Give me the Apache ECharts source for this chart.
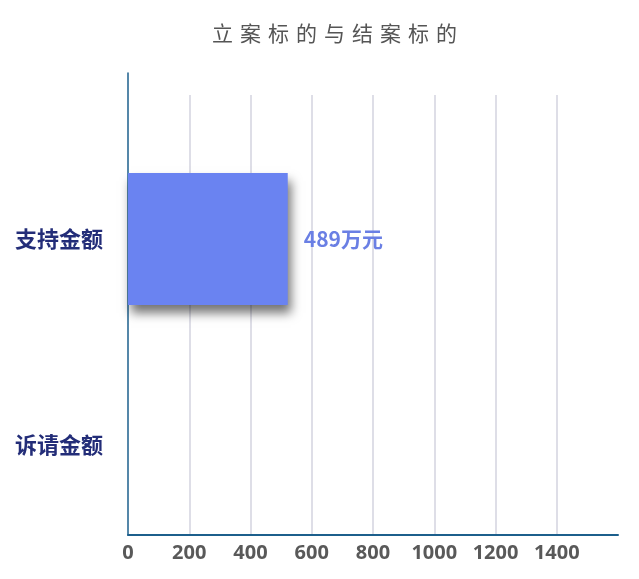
<!DOCTYPE html>
<html>
<head>
<meta charset="utf-8">
<script src="https://cdn.jsdelivr.net/npm/echarts@6/dist/echarts.min.js"></script>
<style>
html,body{margin:0;padding:0;background:#fff;}
#c{width:639px;height:579px;}
</style>
</head>
<body>
<div id="c"></div>
<script>
// ---- data ----
const titleText = '立案标的与结案标的';
const categories = ['支持金额', '诉请金额'];
const amounts = [489, null];          // 万元; 诉请金额 has no bar
const unit = '万元';
const tickMin = 0;
const tickMax = 1600;
const tickStep = 200;
const barScaleMax = 1500;             // scale used by the bar layer

const chart = echarts.init(document.getElementById('c'));
const sp = '\u2004';
const font = '"Noto Sans CJK SC", "Open Sans", sans-serif';

chart.setOption({
  animation: false,
  title: {
    text: titleText.split('').join(sp),
    left: 207,
    top: 18,
    textStyle: { fontSize: 21, fontWeight: 'normal', color: '#555', fontFamily: font }
  },
  grid: [
    { left: 128, right: 21, top: 95, bottom: 44 },   // tick / split-line grid
    { left: 128, right: 21, top: 73, bottom: 44 },   // y axis line
    { left: 128, right: 21, top: 136, bottom: 31 }   // bars
  ],
  xAxis: [
    {
      gridIndex: 0, type: 'value', min: tickMin, max: tickMax, interval: tickStep,
      axisLine: { show: true, lineStyle: { color: '#1c5f8c', width: 2 } },
      axisTick: { show: false },
      axisLabel: { showMaxLabel: false, margin: 8, formatter: v => String(v), color: '#595959', fontSize: 20, fontWeight: 'bold', fontFamily: '"Open Sans", sans-serif' },
      splitLine: { show: true, showMinLine: false, showMaxLine: false, lineStyle: { color: '#d3d3df', width: 1.5 } }
    },
    { gridIndex: 1, type: 'value', min: tickMin, max: tickMax, show: false },
    { gridIndex: 2, type: 'value', min: 0, max: barScaleMax, show: false }
  ],
  yAxis: [
    { gridIndex: 0, type: 'category', data: categories, show: false },
    {
      gridIndex: 1, type: 'category', data: categories,
      axisLine: { show: true, lineStyle: { color: '#1c5f8c', width: 1.5 } },
      axisTick: { show: false }, axisLabel: { show: false }, splitLine: { show: false }
    },
    {
      gridIndex: 2, type: 'category', data: categories, inverse: true,
      axisLine: { show: false }, axisTick: { show: false },
      axisLabel: { margin: 25, color: '#232d78', fontSize: 22, fontWeight: 'bold', fontFamily: font }
    }
  ],
  series: [{
    type: 'bar',
    xAxisIndex: 2, yAxisIndex: 2,
    data: amounts,
    barWidth: 132,
    itemStyle: {
      color: '#6a83f1',
      shadowColor: 'rgba(0,0,0,0.55)',
      shadowBlur: 10,
      shadowOffsetX: 3,
      shadowOffsetY: 8
    },
    label: {
      show: true, position: 'right', distance: 16,
      formatter: p => p.value + unit,
      color: '#6a7fe4', fontSize: 21, fontWeight: 'bold', fontFamily: font
    }
  }]
});
</script>
</body>
</html>
